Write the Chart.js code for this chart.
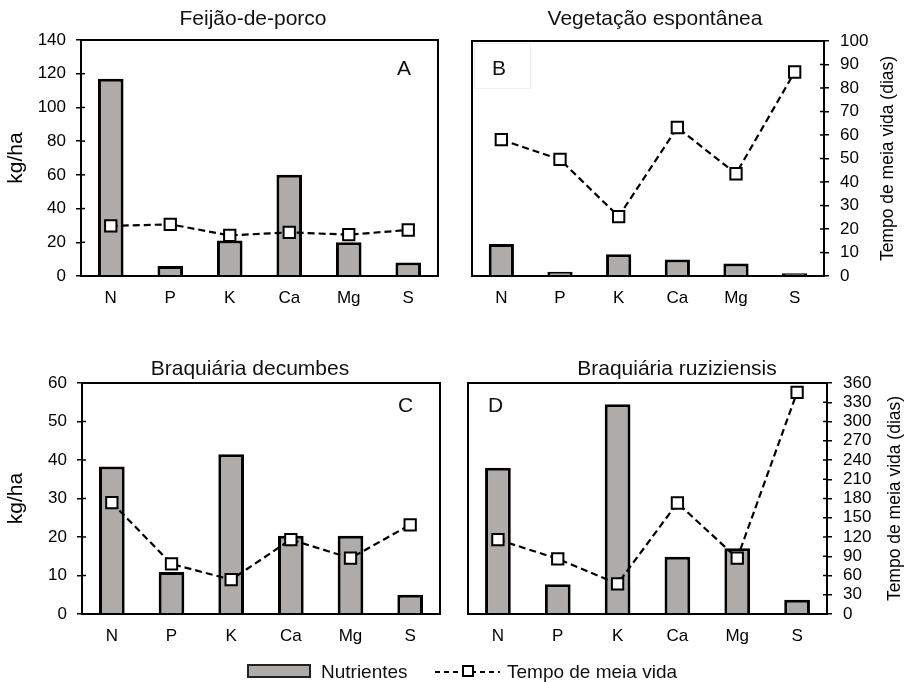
<!DOCTYPE html>
<html lang="pt-BR">
<head>
<meta charset="UTF-8">
<title>Nutrientes e tempo de meia vida</title>
<script src="https://cdn.jsdelivr.net/npm/chart.js"></script>
<style>
    body { margin: 0; background: #fff; }
    #painel { position: relative; width: 908px; height: 682px; font-family: 'Liberation Sans', Arial, sans-serif; color: #111; }
    canvas { position: absolute; }
    .titulo { position: absolute; width: 300px; text-align: center; font-size: 21px; line-height: 24px; }
    .letra { position: absolute; font-size: 21px; line-height: 24px; }
    .leg-txt { position: absolute; font-size: 19px; line-height: 22px; white-space: nowrap; }
</style>
</head>
<body>
<div id="painel">
    <canvas id="chartA" width="450" height="320" style="left:0;top:0"></canvas>
    <canvas id="chartB" width="458" height="320" style="left:450px;top:0"></canvas>
    <canvas id="chartC" width="450" height="352" style="left:0;top:330px"></canvas>
    <canvas id="chartD" width="458" height="352" style="left:450px;top:330px"></canvas>

    <div class="titulo" style="left:103px;top:6px">Feijão-de-porco</div>
    <div class="titulo" style="left:505px;top:6px">Vegetação espontânea</div>
    <div class="titulo" style="left:100px;top:356px">Braquiária decumbes</div>
    <div class="titulo" style="left:527px;top:356px">Braquiária ruziziensis</div>

    <div style="position:absolute;left:474px;top:43px;width:55px;height:44px;border:1px solid #f0f0f0"></div>
    <div class="letra" style="left:397px;top:56px">A</div>
    <div class="letra" style="left:492px;top:56px">B</div>
    <div class="letra" style="left:398px;top:393px">C</div>
    <div class="letra" style="left:488px;top:393px">D</div>

    <!-- legenda -->
    <div style="position:absolute;left:247px;top:664px;width:64px;height:14px;box-sizing:border-box;border:2.5px solid #222;background:#afaba9"></div>
    <div class="leg-txt" style="left:321px;top:661px">Nutrientes</div>
    <div style="position:absolute;left:435px;top:671px;width:65px;height:2px;background:repeating-linear-gradient(to right,#000 0 5px,transparent 5px 9px)"></div>
    <div style="position:absolute;left:462px;top:665px;width:12px;height:12px;box-sizing:border-box;border:2px solid #000;background:#fff"></div>
    <div class="leg-txt" style="left:507px;top:661px">Tempo de meia vida</div>
</div>

<script>
    const elementos = ['N', 'P', 'K', 'Ca', 'Mg', 'S'];

    // kg/ha
    const feijaoNutrientes = [117, 6, 21, 60, 20, 8];
    const vegetacaoNutrientes = [19, 2.6, 13, 9.8, 7.4, 1.6];
    const decumbesNutrientes = [38.3, 10.9, 41.5, 20.3, 20.3, 5];
    const ruziziensisNutrientes = [38, 7.7, 54.5, 14.9, 17.1, 3.7];

    // tempo de meia vida (dias)
    const feijaoMeiaVida = [21.2, 21.9, 17.2, 18.5, 17.5, 19.5];
    const vegetacaoMeiaVida = [58, 49.6, 25.3, 63.2, 43.5, 86.8];
    const decumbesMeiaVida = [173.5, 78, 53.5, 116, 87, 139];
    const ruziziensisMeiaVida = [116, 86, 47, 173, 87, 345.5];

    Chart.defaults.font.family = "'Liberation Sans', Arial, sans-serif";
    Chart.defaults.color = '#000';

    // moldura do gráfico + metade interna das marcas de escala
    const moldura = {
        id: 'moldura',
        afterDraw(chart) {
            const ctx = chart.ctx;
            const a = chart.chartArea;
            ctx.save();
            ctx.strokeStyle = '#000';
            ctx.lineWidth = 2;
            ctx.strokeRect(a.left, a.top, a.right - a.left, a.bottom - a.top);
            ctx.lineWidth = 1.5;
            Object.values(chart.scales).forEach(s => {
                if (s.axis !== 'y' || !s.options.display) return;
                const x = s.position === 'left' ? a.left : a.right;
                const dir = s.position === 'left' ? 1 : -1;
                s.ticks.forEach((t, i) => {
                    const y = s.getPixelForTick(i);
                    ctx.beginPath();
                    ctx.moveTo(x, y);
                    ctx.lineTo(x + dir * 4, y);
                    ctx.stroke();
                });
            });
            ctx.restore();
        }
    };

    // título do eixo direito, lido de baixo para cima
    const tituloDireito = {
        id: 'tituloDireito',
        afterDraw(chart, args, opts) {
            if (!opts.text) return;
            const ctx = chart.ctx;
            const a = chart.chartArea;
            ctx.save();
            ctx.translate(opts.x, (a.top + a.bottom) / 2);
            ctx.rotate(-Math.PI / 2);
            ctx.font = "17.5px 'Liberation Sans', Arial, sans-serif";
            ctx.fillStyle = '#000';
            ctx.textAlign = 'center';
            ctx.textBaseline = 'middle';
            ctx.fillText(opts.text, 0, 0);
            ctx.restore();
        }
    };

    function eixoVisivel(pos, max, passo, largura, titulo) {
        const eixo = {
            position: pos,
            min: 0,
            max: max,
            ticks: { stepSize: passo, autoSkip: false, padding: pos === 'left' ? 10 : 11, font: { size: 17 }, color: '#000' },
            grid: { drawOnChartArea: false, tickLength: 5, color: '#000', lineWidth: 1.5 },
            border: { display: false },
            afterFit(s) { s.width = largura; }
        };
        if (titulo) {
            eixo.title = { display: true, text: titulo, font: { size: 21 }, padding: { top: 4, bottom: 0 } };
        }
        return eixo;
    }

    function painel(id, nutr, meia, cfg) {
        return new Chart(document.getElementById(id), {
            type: 'bar',
            data: {
                labels: elementos,
                datasets: [{
                    type: 'line',
                    label: 'Tempo de meia vida',
                    data: meia,
                    yAxisID: 'y1',
                    order: 0,
                    borderColor: '#000',
                    borderWidth: 2.2,
                    borderDash: [7, 4],
                    pointStyle: 'rect',
                    pointRadius: 8,
                    pointBackgroundColor: '#fff',
                    pointBorderColor: '#000',
                    pointBorderWidth: 2,
                    fill: false,
                    tension: 0
                }, {
                    type: 'bar',
                    label: 'Nutrientes',
                    data: nutr,
                    yAxisID: 'y',
                    order: 1,
                    backgroundColor: '#afaba9',
                    borderColor: '#000',
                    borderWidth: 3,
                    barPercentage: 0.43,
                    categoryPercentage: 1
                }]
            },
            options: {
                responsive: false,
                animation: false,
                devicePixelRatio: 1,
                layout: { padding: cfg.padding },
                plugins: {
                    legend: { display: false },
                    tooltip: { enabled: false },
                    tituloDireito: { text: cfg.tituloDir, x: cfg.tituloX }
                },
                scales: {
                    x: {
                        grid: { display: false, drawTicks: false },
                        border: { display: false },
                        ticks: { padding: 12, font: { size: 17 }, color: '#000' },
                        afterFit(s) { s.height = 30; }
                    },
                    y: cfg.y,
                    y1: cfg.y1
                }
            },
            plugins: [moldura, tituloDireito]
        });
    }

    painel('chartA', feijaoNutrientes, feijaoMeiaVida, {
        padding: { left: 0, top: 40, right: 12, bottom: 14 },
        y: eixoVisivel('left', 140, 20, 81, 'kg/ha'),
        y1: { position: 'right', display: false, min: 0, max: 100 }
    });

    painel('chartB', vegetacaoNutrientes, vegetacaoMeiaVida, {
        padding: { left: 22, top: 41, right: 0, bottom: 14 },
        y: { position: 'left', display: false, min: 0, max: 140 },
        y1: eixoVisivel('right', 100, 10, 84),
        tituloDir: 'Tempo de meia vida (dias)',
        tituloX: 438
    });

    painel('chartC', decumbesNutrientes, decumbesMeiaVida, {
        padding: { left: 0, top: 53, right: 5, bottom: 38 },
        y: eixoVisivel('left', 60, 10, 82, 'kg/ha'),
        y1: { position: 'right', display: false, min: 0, max: 360 }
    });

    painel('chartD', ruziziensisNutrientes, ruziziensisMeiaVida, {
        padding: { left: 18, top: 53, right: 0, bottom: 38 },
        y: { position: 'left', display: false, min: 0, max: 60 },
        y1: eixoVisivel('right', 360, 30, 81),
        tituloDir: 'Tempo de meia vida (dias)',
        tituloX: 445
    });
</script>
</body>
</html>
